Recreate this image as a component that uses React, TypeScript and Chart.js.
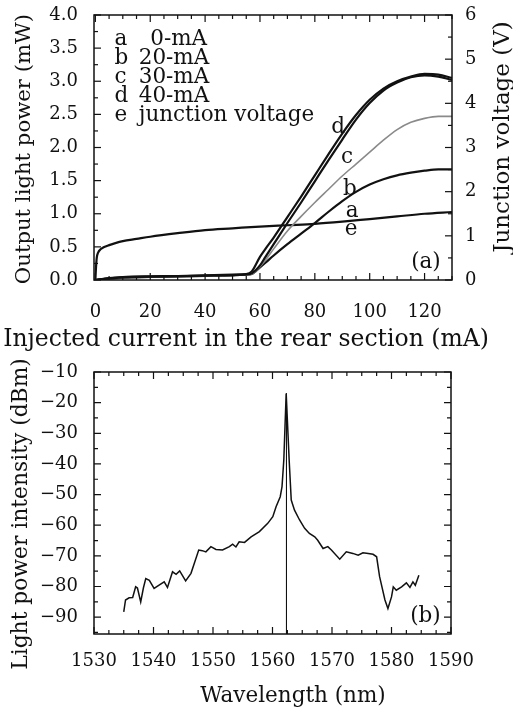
import React, { useEffect, useRef } from "react";
import { Chart, registerables } from "chart.js";

Chart.register(...registerables);

// ---------------- Panel (a): P-I curves and junction voltage ----------------
const rearCurrentMA = [0, 5, 10, 20, 30, 40, 50, 55, 57, 60, 62, 65, 70, 75, 80, 85, 90, 95, 100, 105, 110, 115, 120, 125, 130];
const powerD_mW = [0, 0.03, 0.045, 0.055, 0.06, 0.07, 0.08, 0.09, 0.13, 0.35, 0.47, 0.64, 0.95, 1.26, 1.58, 1.9, 2.21, 2.49, 2.72, 2.89, 3.0, 3.07, 3.11, 3.1, 3.05];
const powerA_mW = [0, 0.025, 0.04, 0.05, 0.058, 0.066, 0.075, 0.085, 0.1, 0.22, 0.35, 0.54, 0.86, 1.17, 1.49, 1.81, 2.12, 2.42, 2.67, 2.86, 2.98, 3.06, 3.09, 3.07, 3.02];
const powerC_mW = [0, 0.02, 0.035, 0.045, 0.05, 0.06, 0.07, 0.08, 0.09, 0.2, 0.3, 0.47, 0.74, 0.96, 1.17, 1.37, 1.57, 1.75, 1.93, 2.11, 2.27, 2.38, 2.44, 2.47, 2.47];
const powerB_mW = [0, 0.02, 0.035, 0.045, 0.05, 0.06, 0.07, 0.08, 0.09, 0.19, 0.26, 0.37, 0.54, 0.7, 0.86, 1.03, 1.19, 1.33, 1.44, 1.52, 1.58, 1.62, 1.65, 1.67, 1.67];
const voltageCurrentMA = [0, 0.2, 0.5, 1, 2, 3, 5, 7, 10, 15, 20, 30, 40, 50, 60, 70, 80, 90, 100, 110, 120, 130];
const junctionVoltageV = [0, 0.25, 0.5, 0.62, 0.7, 0.74, 0.79, 0.83, 0.88, 0.93, 0.98, 1.06, 1.13, 1.17, 1.21, 1.24, 1.27, 1.32, 1.38, 1.44, 1.5, 1.54];

const currentTicks = [0, 20, 40, 60, 80, 100, 120];
const powerTicks = [0, 0.5, 1, 1.5, 2, 2.5, 3, 3.5, 4];
const voltageTicks = [0, 1, 2, 3, 4, 5, 6];

const legendKeys = ["a", "b", "c", "d", "e"];
const legendLabels = ["0-mA", "20-mA", "30-mA", "40-mA", "junction voltage"];

// ---------------- Panel (b): optical spectrum ----------------
const wavelengthNm = [1535.0, 1535.3, 1535.9, 1536.5, 1537.0, 1537.3, 1537.85, 1538.3, 1538.7, 1539.3, 1540.1, 1541.0, 1541.8, 1542.35, 1543.2, 1543.8, 1544.4, 1545.4, 1546.3, 1546.85, 1547.6, 1548.2, 1548.8, 1549.65, 1550.5, 1551.6, 1552.75, 1553.3, 1553.85, 1554.4, 1555.3, 1556.4, 1557.8, 1559.2, 1560.05, 1560.6, 1561.3, 1561.6, 1561.9, 1562.1, 1562.3, 1562.55, 1562.8, 1563.15, 1563.7, 1564.55, 1565.4, 1566.2, 1567.1, 1567.6, 1568.5, 1569.3, 1569.9, 1571.3, 1572.4, 1573.5, 1574.4, 1575.2, 1576.1, 1576.9, 1577.5, 1578.0, 1578.9, 1579.4, 1580.0, 1580.3, 1580.8, 1581.7, 1582.5, 1583.1, 1583.6, 1584.0, 1584.6];
const spectrumDbm = [-88.3, -84.4, -83.7, -83.6, -80.1, -80.5, -85.0, -80.5, -77.4, -78.0, -80.6, -79.5, -78.5, -80.3, -75.2, -76.0, -74.9, -78.2, -75.7, -72.5, -68.1, -68.3, -68.7, -67.0, -67.9, -68.1, -67.0, -66.2, -67.1, -65.4, -65.6, -63.8, -62.1, -59.4, -57.2, -54.0, -50.7, -47.4, -38.7, -27.9, -17.0, -27.9, -38.7, -51.8, -55.1, -58.3, -61.0, -62.7, -63.8, -64.9, -67.6, -67.0, -68.1, -71.1, -68.7, -69.2, -69.8, -69.0, -69.2, -69.5, -70.3, -76.8, -84.4, -87.2, -83.4, -80.1, -81.2, -80.1, -78.8, -80.3, -78.5, -79.6, -76.3];
const peakLineNm = [1562.35, 1562.35];
const peakLineDbm = [-17.0, -95.5];

const wavelengthTicks = [1530, 1540, 1550, 1560, 1570, 1580, 1590];
const dbmTicks = [-90, -80, -70, -60, -50, -40, -30, -20, -10];

// ---------------- helpers ----------------
const SERIF = '"DejaVu Serif", "Liberation Serif", serif';
const INK = "#111";

const pts = (xs: number[], ys: number[]) => xs.map((x, i) => ({ x, y: ys[i] }));
const setTicks = (vals: number[]) => (scale: any) => {
  scale.ticks = vals.map((v) => ({ value: v }));
};
const minus = (v: number) => (v < 0 ? "\u2212" + Math.abs(v) : String(v));
// fixed axis box size; label overflow is handled by the layout padding
const fixSize = (dim: "width" | "height", size: number) => (s: any) => {
  s[dim] = size;
  s.paddingTop = 0;
  s.paddingBottom = 0;
  s.paddingLeft = 0;
  s.paddingRight = 0;
};

function tickMarks(scale: any, minor: number) {
  const vals = scale.ticks.map((t: any) => t.value);
  const step = vals[1] - vals[0];
  const ms = step / minor;
  const base = vals[0];
  const out: { v: number; major: boolean }[] = [];
  const kMin = Math.ceil((scale.min - base) / ms - 1e-6);
  const kMax = Math.floor((scale.max - base) / ms + 1e-6);
  for (let k = kMin; k <= kMax; k++) {
    out.push({ v: base + k * ms, major: ((k % minor) + minor) % minor === 0 });
  }
  return out;
}

type FrameSpec = { id: string; minor: number; sides: ("top" | "bottom" | "left" | "right")[] };

const framePlugin = (specs: FrameSpec[]) => ({
  id: "frameTicks",
  afterDraw(chart: any) {
    const { ctx, chartArea: a } = chart;
    ctx.save();
    ctx.strokeStyle = INK;
    ctx.lineWidth = 1.5;
    ctx.strokeRect(a.left, a.top, a.right - a.left, a.bottom - a.top);
    ctx.lineWidth = 1.2;
    for (const s of specs) {
      const scale = chart.scales[s.id];
      for (const t of tickMarks(scale, s.minor)) {
        const p = scale.getPixelForValue(t.v);
        const len = t.major ? 7 : 4;
        ctx.beginPath();
        for (const side of s.sides) {
          if (side === "bottom") { ctx.moveTo(p, a.bottom); ctx.lineTo(p, a.bottom - len); }
          if (side === "top") { ctx.moveTo(p, a.top); ctx.lineTo(p, a.top + len); }
          if (side === "left") { ctx.moveTo(a.left, p); ctx.lineTo(a.left + len, p); }
          if (side === "right") { ctx.moveTo(a.right, p); ctx.lineTo(a.right - len, p); }
        }
        ctx.stroke();
      }
    }
    ctx.restore();
  },
});

type Txt = {
  text: string;
  x: number;
  y: number;
  data?: boolean;
  xs?: string;
  ys?: string;
  align?: CanvasTextAlign;
  baseline?: CanvasTextBaseline;
  rot?: number;
  size?: number;
};

const textPlugin = (items: () => Txt[]) => ({
  id: "texts",
  afterDraw(chart: any) {
    const { ctx } = chart;
    ctx.save();
    ctx.fillStyle = INK;
    for (const t of items()) {
      let x = t.x;
      let y = t.y;
      if (t.data) {
        x = chart.scales[t.xs || "x"].getPixelForValue(t.x);
        y = chart.scales[t.ys || "y"].getPixelForValue(t.y);
      }
      ctx.font = `${t.size || 21.5}px ${SERIF}`;
      ctx.textAlign = t.align || "left";
      ctx.textBaseline = t.baseline || "alphabetic";
      ctx.save();
      ctx.translate(x, y);
      if (t.rot) ctx.rotate(t.rot);
      ctx.fillText(t.text, 0, 0);
      ctx.restore();
    }
    ctx.restore();
  },
});

const tickFont = { family: SERIF, size: 18 };
const noGrid = { display: false, drawTicks: false, drawOnChartArea: false };
const lineCommon = { showLine: true, pointRadius: 0, fill: false, cubicInterpolationMode: "monotone" as const };

function topConfig(): any {
  const legendBaselines = [3.547, 3.26, 2.974, 2.687, 2.4];
  const texts = (): Txt[] => {
    const out: Txt[] = [];
    legendKeys.forEach((k, i) => {
      out.push({ text: k, x: 7, y: legendBaselines[i], data: true });
      out.push({ text: legendLabels[i], x: i === 0 ? 20 : 15.8, y: legendBaselines[i], data: true });
    });
    out.push({ text: "d", x: 88.5, y: 2.219, data: true, align: "center" });
    out.push({ text: "c", x: 91.7, y: 1.766, data: true, align: "center" });
    out.push({ text: "b", x: 92.8, y: 1.283, data: true, align: "center" });
    out.push({ text: "a", x: 93.6, y: 0.955, data: true, align: "center" });
    out.push({ text: "e", x: 93.2, y: 0.679, data: true, align: "center" });
    out.push({ text: "(a)", x: 120.5, y: 0.18, data: true, align: "center" });
    out.push({ text: "Output light power (mW)", x: 24, y: 149, rot: -Math.PI / 2, align: "center", baseline: "middle", size: 21.2 });
    out.push({ text: "Junction voltage (V)", x: 503, y: 137, rot: -Math.PI / 2, align: "center", baseline: "middle", size: 23 });
    out.push({ text: "Injected current in the rear section (mA)", x: 246, y: 346, align: "center", size: 23.5 });
    return out;
  };
  return {
    type: "scatter",
    data: {
      datasets: [
        { label: "d 40-mA", data: pts(rearCurrentMA, powerD_mW), borderColor: "#111", borderWidth: 2.2, yAxisID: "y", ...lineCommon },
        { label: "a 0-mA", data: pts(rearCurrentMA, powerA_mW), borderColor: "#111", borderWidth: 2.2, yAxisID: "y", ...lineCommon },
        { label: "c 30-mA", data: pts(rearCurrentMA, powerC_mW), borderColor: "#8a8a8a", borderWidth: 1.6, yAxisID: "y", ...lineCommon },
        { label: "b 20-mA", data: pts(rearCurrentMA, powerB_mW), borderColor: "#111", borderWidth: 2.2, yAxisID: "y", ...lineCommon },
        { label: "e junction voltage", data: pts(voltageCurrentMA, junctionVoltageV), borderColor: "#111", borderWidth: 2.2, yAxisID: "y1", ...lineCommon },
      ],
    },
    options: {
      animation: false,
      responsive: false,
      devicePixelRatio: 1,
      layout: { padding: { top: 15, left: 0, right: 0, bottom: 0 } },
      plugins: { legend: { display: false }, tooltip: { enabled: false } },
      scales: {
        x: {
          type: "linear",
          min: -0.5,
          max: 130,
          afterBuildTicks: setTicks(currentTicks),
          afterFit: fixSize("height", 75),
          ticks: { font: tickFont, color: INK, padding: 22, autoSkip: false, maxRotation: 0, callback: (v: any) => String(v) },
          grid: noGrid,
          border: { display: false },
        },
        y: {
          type: "linear",
          position: "left",
          min: 0,
          max: 4,
          afterBuildTicks: setTicks(powerTicks),
          afterFit: fixSize("width", 94),
          ticks: { font: tickFont, color: INK, padding: 16, autoSkip: false, callback: (v: any) => Number(v).toFixed(1) },
          grid: noGrid,
          border: { display: false },
        },
        y1: {
          type: "linear",
          position: "right",
          min: 0,
          max: 6,
          afterBuildTicks: setTicks(voltageTicks),
          afterFit: fixSize("width", 61),
          ticks: { font: tickFont, color: INK, padding: 13, autoSkip: false, callback: (v: any) => String(v) },
          grid: noGrid,
          border: { display: false },
        },
      },
    },
    plugins: [
      framePlugin([
        { id: "x", minor: 4, sides: ["bottom", "top"] },
        { id: "y", minor: 2, sides: ["left"] },
        { id: "y1", minor: 2, sides: ["right"] },
      ]),
      textPlugin(texts),
    ],
  };
}

function bottomConfig(): any {
  const texts = (): Txt[] => [
    { text: "(b)", x: 1585.7, y: -91.5, data: true, align: "center" },
    { text: "Light power intensity (dBm)", x: 21, y: 159, rot: -Math.PI / 2, align: "center", baseline: "middle", size: 21.8 },
    { text: "Wavelength (nm)", x: 293, y: 346.5, align: "center", size: 21.5 },
  ];
  return {
    type: "scatter",
    data: {
      datasets: [
        { label: "spectrum", data: pts(wavelengthNm, spectrumDbm), borderColor: "#111", borderWidth: 1.5, tension: 0, showLine: true, pointRadius: 0, fill: false },
        { label: "peak", data: pts(peakLineNm, peakLineDbm), borderColor: "#111", borderWidth: 1, showLine: true, pointRadius: 0, fill: false },
      ],
    },
    options: {
      animation: false,
      responsive: false,
      devicePixelRatio: 1,
      layout: { padding: { top: 17, left: 0, right: 62, bottom: 0 } },
      plugins: { legend: { display: false }, tooltip: { enabled: false } },
      scales: {
        x: {
          type: "linear",
          min: 1530,
          max: 1590,
          afterBuildTicks: setTicks(wavelengthTicks),
          afterFit: fixSize("height", 74),
          ticks: { font: tickFont, color: INK, padding: 17, autoSkip: false, maxRotation: 0, callback: (v: any) => String(v) },
          grid: noGrid,
          border: { display: false },
        },
        y: {
          type: "linear",
          position: "left",
          min: -95.5,
          max: -10,
          afterBuildTicks: setTicks(dbmTicks),
          afterFit: fixSize("width", 94),
          ticks: { font: tickFont, color: INK, padding: 16, autoSkip: false, callback: (v: any) => minus(Number(v)) },
          grid: noGrid,
          border: { display: false },
        },
      },
    },
    plugins: [
      framePlugin([
        { id: "x", minor: 4, sides: ["bottom", "top"] },
        { id: "y", minor: 2, sides: ["left", "right"] },
      ]),
      textPlugin(texts),
    ],
  };
}

export default function App() {
  const topRef = useRef<HTMLCanvasElement>(null);
  const botRef = useRef<HTMLCanvasElement>(null);
  useEffect(() => {
    const c1 = new Chart(topRef.current as HTMLCanvasElement, topConfig());
    const c2 = new Chart(botRef.current as HTMLCanvasElement, bottomConfig());
    return () => {
      c1.destroy();
      c2.destroy();
    };
  }, []);
  return (
    <div style={{ position: "absolute", left: 0, top: 0, width: 513, height: 708, background: "#fff" }}>
      <canvas ref={topRef} width={513} height={355} style={{ position: "absolute", left: 0, top: 0, width: 513, height: 355 }} />
      <canvas ref={botRef} width={513} height={353} style={{ position: "absolute", left: 0, top: 355, width: 513, height: 353 }} />
    </div>
  );
}
